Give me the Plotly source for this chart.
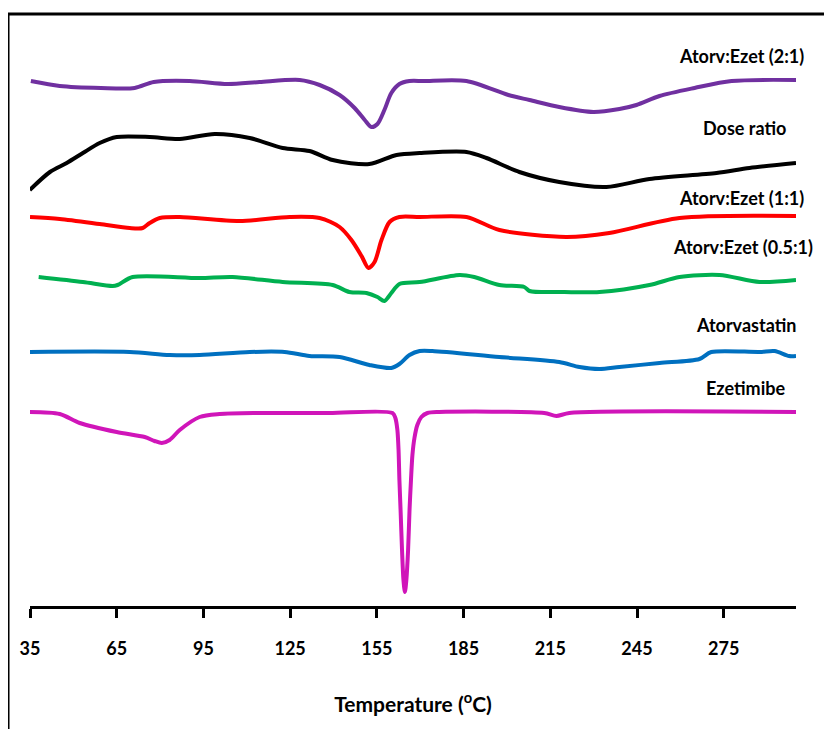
import plotly.graph_objects as go

# ---- data (temperature in °C, heat-flow signal in arbitrary offset units) ----
t_21 = [35.3, 45.3, 59.5, 71.2, 77.8, 90.2, 103.4, 114.4, 128.3, 135.2, 142.1, 147.3, 150.8, 153.1,
        155.2, 157.6, 160.0, 162.8, 166.3, 171.1, 186.0, 200.5, 207.8, 218.1, 229.9, 238.9, 244.8,
        252.8, 264.9, 277.7, 300.0]
s_21 = [52.5, 52.0, 51.8, 51.8, 52.4, 52.5, 52.2, 52.4, 52.6, 52.1, 51.1, 49.8, 48.6, 47.9,
        48.2, 49.6, 51.3, 52.2, 52.5, 52.5, 52.5, 51.1, 50.6, 49.9, 49.4, 49.7, 50.1,
        51.0, 51.8, 52.5, 52.6]

t_dose = [34.9, 41.9, 47.7, 53.3, 59.1, 65.0, 76.4, 86.8, 98.9, 111.0, 122.4, 131.7, 139.7, 152.4,
          161.8, 169.8, 186.0, 192.9, 204.3, 218.1, 234.4, 249.3, 272.5, 283.9, 300.0]
s_dose = [41.6, 43.4, 44.3, 45.3, 46.3, 46.9, 46.9, 46.7, 47.2, 46.8, 45.8, 45.5, 44.6, 44.2,
          45.1, 45.3, 45.4, 44.8, 43.4, 42.4, 41.9, 42.7, 43.3, 43.8, 44.3]

t_11 = [35.0, 45.3, 59.1, 69.5, 74.0, 76.4, 79.9, 86.8, 107.5, 124.8, 135.2, 142.1, 146.2, 149.7,
        152.1, 154.2, 156.6, 159.4, 162.8, 169.8, 186.0, 197.4, 220.5, 235.4, 259.7, 300.0]
s_11 = [38.9, 38.7, 38.2, 37.8, 37.8, 38.3, 38.8, 38.9, 38.5, 38.9, 38.8, 37.9, 36.6, 35.0,
        33.8, 34.4, 36.6, 38.4, 38.9, 38.9, 38.9, 37.6, 36.9, 37.3, 38.8, 39.0]

t_051 = [38.0, 53.3, 63.6, 65.3, 70.5, 93.7, 105.1, 122.4, 139.7, 145.5, 151.4, 155.2, 157.6, 160.0,
         162.8, 169.8, 183.6, 188.7, 197.4, 206.0, 207.8, 219.9, 232.0, 249.3, 259.7, 273.5, 287.4, 300.0]
s_051 = [32.9, 32.4, 32.0, 32.1, 32.9, 32.8, 32.9, 32.4, 32.1, 31.4, 31.3, 30.9, 30.5, 31.3,
         32.2, 32.4, 33.1, 32.9, 32.1, 31.9, 31.5, 31.4, 31.4, 32.1, 32.9, 33.1, 32.4, 32.6]

t_atorva = [35.0, 69.5, 83.3, 93.7, 111.0, 123.1, 131.7, 142.1, 152.4, 160.0, 162.8, 166.3, 169.8,
            174.2, 197.4, 218.1, 225.1, 232.0, 238.9, 252.8, 266.6, 270.7, 287.4, 292.6, 297.6, 300.0]
s_atorva = [25.4, 25.4, 25.1, 25.1, 25.4, 25.4, 25.0, 24.9, 24.1, 23.8, 24.2, 25.1, 25.5,
            25.5, 24.9, 24.4, 23.9, 23.7, 23.9, 24.3, 24.7, 25.4, 25.4, 25.5, 25.0, 25.0]

t_ezet = [35.0, 45.3, 52.2, 65.0, 74.7, 78.1, 80.6, 83.3, 86.8, 93.7, 100.6, 114.4, 138.6, 160.4,
          161.4, 162.1, 162.5, 162.8, 163.2, 163.7, 164.2, 164.7, 165.2, 165.8, 166.3, 166.8, 167.3,
          168.0, 169.0, 170.4, 172.5, 176.6, 212.9, 217.1, 221.6, 300.0]
s_ezet = [19.4, 19.2, 18.3, 17.4, 16.9, 16.5, 16.3, 16.6, 17.6, 18.9, 19.2, 19.3, 19.3, 19.3,
          18.8, 17.6, 15.6, 12.6, 9.6, 5.6, 2.6, 1.4, 2.6, 5.6, 9.6, 12.6, 15.1,
          16.8, 18.1, 18.9, 19.3, 19.4, 19.3, 19.0, 19.3, 19.4]

series = [
    ("Atorv:Ezet (2:1)", t_21, s_21, "#7030A0"),
    ("Dose ratio", t_dose, s_dose, "#000000"),
    ("Atorv:Ezet (1:1)", t_11, s_11, "#FF0000"),
    ("Atorv:Ezet (0.5:1)", t_051, s_051, "#00B050"),
    ("Atorvastatin", t_atorva, s_atorva, "#0070C0"),
    ("Ezetimibe", t_ezet, s_ezet, "#D015B9"),
]

tick_vals = [35, 65, 95, 125, 155, 185, 215, 245, 275]
tick_text = [str(v) for v in tick_vals]

FONT = "Lato, Roboto, sans-serif"

fig = go.Figure()
for name, t, s, c in series:
    fig.add_trace(go.Scatter(x=t, y=s, mode="lines", name=name,
                             line=dict(color=c, width=4, shape="spline", smoothing=0.8),
                             showlegend=False))

# label anchors: right edge (paper x) and vertical centre (data y)
labels = [
    ("Atorv:Ezet (2:1)", 1.013, 55.0),
    ("Dose ratio", 0.990, 47.8),
    ("Atorv:Ezet (1:1)", 1.013, 40.8),
    ("Atorv:Ezet (0.5:1)", 1.025, 35.9),
    ("Atorvastatin", 1.003, 28.1),
    ("Ezetimibe", 0.988, 21.8),
]
for txt, x, y in labels:
    fig.add_annotation(x=x, y=y, xref="paper", yref="y", text="<b>" + txt + "</b>",
                       showarrow=False, xanchor="right", yanchor="middle",
                       font=dict(family=FONT, size=18, color="black"))

fig.update_layout(
    width=832, height=729,
    margin=dict(l=22, r=44, t=22, b=131),
    paper_bgcolor="white", plot_bgcolor="white",
    xaxis=dict(range=[35, 300], tickvals=tick_vals, ticktext=["<b>%s</b>" % s for s in tick_text],
               showline=True, linecolor="black", linewidth=3,
               ticks="outside", ticklen=9, tickwidth=2.5, tickcolor="black",
               showgrid=False, zeroline=False, ticklabelstandoff=15,
               tickfont=dict(family=FONT, size=18, color="black"),
               title=dict(text="<b>Temperature (<sup>o</sup>C)</b>", standoff=40,
                          font=dict(family=FONT, size=21, color="black"))),
    yaxis=dict(range=[0, 57.6], visible=False),
    shapes=[dict(type="rect", xref="paper", yref="paper",
                 x0=-0.0287, x1=1.2, y0=-0.4, y1=1.0278,
                 line=dict(color="black", width=3), fillcolor="rgba(0,0,0,0)")],
)

fig.write_html("out.html")
